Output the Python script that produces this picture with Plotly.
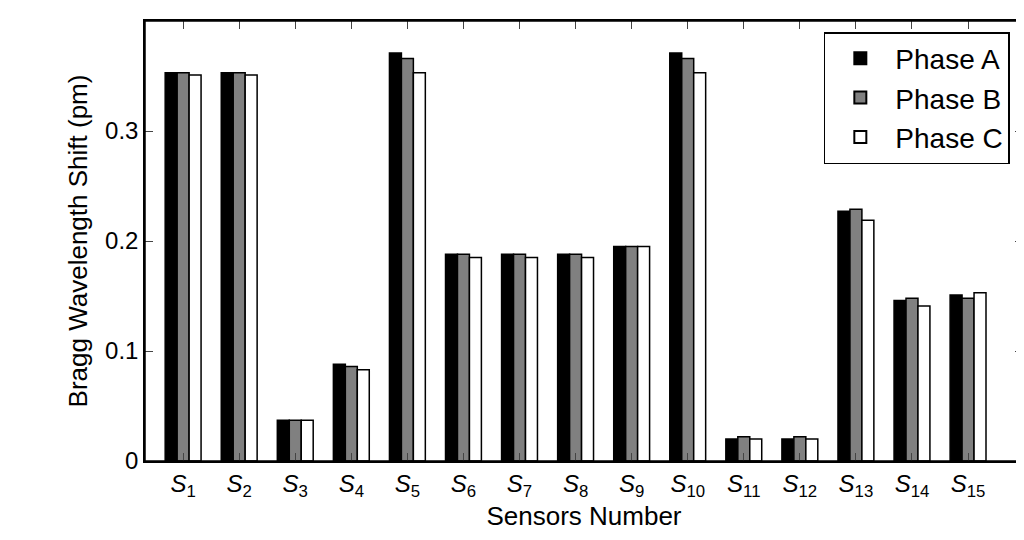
import plotly.graph_objects as go

sensors = ["<i>S</i><sub>%d</sub>" % i for i in range(1, 16)]
phase_a = [0.353, 0.353, 0.037, 0.088, 0.371, 0.188, 0.188, 0.188, 0.195, 0.371, 0.020, 0.020, 0.227, 0.146, 0.151]
phase_b = [0.353, 0.353, 0.037, 0.086, 0.366, 0.188, 0.188, 0.188, 0.195, 0.366, 0.022, 0.022, 0.229, 0.148, 0.148]
phase_c = [0.351, 0.351, 0.037, 0.083, 0.353, 0.185, 0.185, 0.185, 0.195, 0.353, 0.020, 0.020, 0.219, 0.141, 0.153]

x = list(range(15))
fig = go.Figure()
for name, vals, col in [("Phase A", phase_a, "black"), ("Phase B", phase_b, "#808080"), ("Phase C", phase_c, "white")]:
    fig.add_trace(go.Bar(x=x, y=vals, name=name, marker=dict(color=col, line=dict(color="black", width=1.5))))

# frame around plot area
fig.add_shape(type="rect", xref="paper", yref="paper", x0=0, y0=0, x1=1, y1=1,
              line=dict(color="black", width=1.5), layer="above")

fig.update_layout(
    width=1024, height=540, barmode="group", bargap=0.36, bargroupgap=0,
    plot_bgcolor="white", paper_bgcolor="white",
    margin=dict(l=137, r=7, t=13, b=87),
    font=dict(family="Liberation Sans, Arial", size=22, color="black"),
    legend=dict(x=0.985, y=0.975, xanchor="right", yanchor="top", bordercolor="black", borderwidth=1.5,
                font=dict(size=28), itemsizing="constant", itemwidth=60, tracegroupgap=4),
    xaxis=dict(tickvals=x, ticktext=sensors, range=[-0.68, 14.98], showline=True, linecolor="black", linewidth=1.5,
               mirror="allticks", ticks="inside", ticklen=8, tickfont=dict(size=24),
               title=dict(text="Sensors Number", standoff=4)),
    yaxis=dict(range=[0, 0.4001], tickvals=[0, 0.1, 0.2, 0.3, 0.4], ticktext=["0", "0.1", "0.2", "0.3", "0.4"],
               showline=True, linecolor="black", linewidth=1.5, mirror="allticks", ticks="inside", ticklen=8,
               showgrid=False, zeroline=False, tickfont=dict(size=24),
               title=dict(text="Bragg Wavelength Shift (pm)", standoff=10)),
)
fig.write_html("out.html")
